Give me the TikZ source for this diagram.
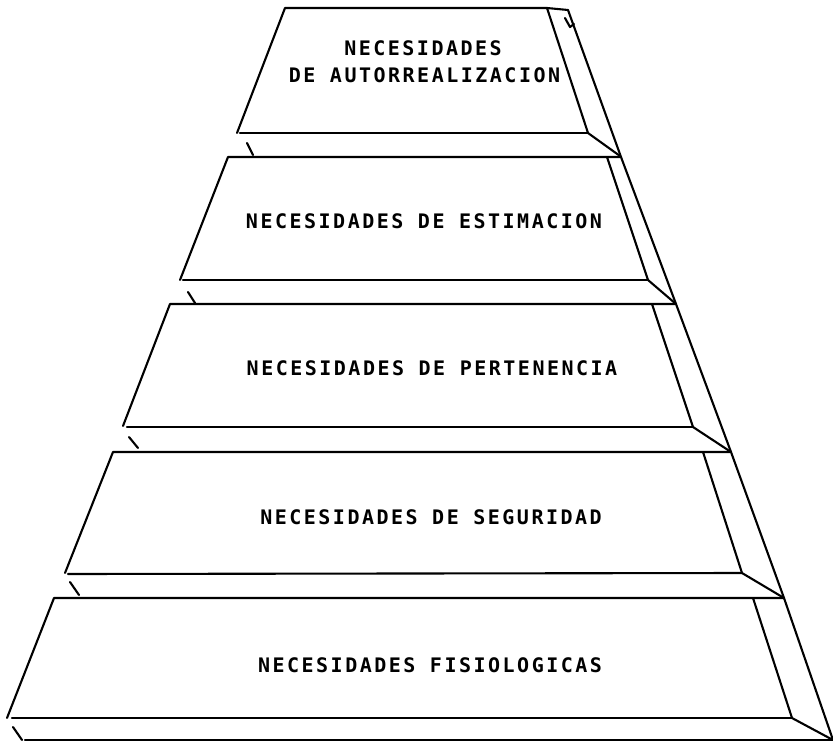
\documentclass[tikz,border=0pt]{standalone}
\usepackage{fontspec}
\usepackage{tikz}
\usetikzlibrary{positioning,calc}
\newfontfamily\plotfont{DejaVu Sans Mono}[LetterSpace=12.5,BoldFont={DejaVu Sans Mono Bold}]

\tikzset{
    pyrline/.style={line width=2.1pt, line cap=round, line join=round},
    levellabel/.style={font=\plotfont\bfseries\fontsize{20}{22}\selectfont, inner sep=0pt}
}

\begin{document}
\begin{tikzpicture}[x=1pt,y=-1pt]
    \useasboundingbox (0,0) rectangle (833,742);

    % Level 1: autorrealizacion
    \draw[pyrline] (237,133) -- (285,8) -- (547,8) -- (568,10);
    \draw[pyrline] (547,8) -- (588,133) -- (620,156);
    \draw[pyrline] (240,133) -- (588,133);
    \draw[pyrline] (568,10) -- (621,157);
    \draw[pyrline] (247,143) -- (253,155); % tick
    \draw[pyrline] (565,18) -- (570,27) -- (574,24); % little mark
    \node[levellabel] (auto1) at (423,48.5) {NECESIDADES};
    \node[levellabel] (auto2) at (424.5,75.5) {DE AUTORREALIZACION};

    % Level 2: estimacion
    \draw[pyrline] (180,280) -- (228,157) -- (621,157);
    \draw[pyrline] (607,157) -- (648,280) -- (676,304);
    \draw[pyrline] (183,280) -- (648,280);
    \draw[pyrline] (621,157) -- (676,304);
    \draw[pyrline] (188,292) -- (195,303); % tick
    \node[levellabel] (estima) at (424,221.5) {NECESIDADES DE ESTIMACION};

    % Level 3: pertenencia
    \draw[pyrline] (123,426) -- (170,304) -- (676,304);
    \draw[pyrline] (652,304) -- (693,427) -- (731,452);
    \draw[pyrline] (127,427) -- (693,427);
    \draw[pyrline] (676,304) -- (731,452);
    \draw[pyrline] (129,437) -- (138,448); % tick
    \node[levellabel] (perten) at (432,368) {NECESIDADES DE PERTENENCIA};

    % Level 4: seguridad
    \draw[pyrline] (65,573) -- (113,452) -- (731,452);
    \draw[pyrline] (703,452) -- (742,573) -- (784,598);
    \draw[pyrline] (68,574) -- (742,573);
    \draw[pyrline] (731,452) -- (784,598);
    \draw[pyrline] (70,582) -- (79,595); % tick
    \node[levellabel] (segur) at (431,517) {NECESIDADES DE SEGURIDAD};

    % Level 5: fisiologicas
    \draw[pyrline] (7,718) -- (54,598) -- (784,598);
    \draw[pyrline] (753,598) -- (792,718) -- (833,740);
    \draw[pyrline] (12,718) -- (792,718);
    \draw[pyrline] (784,598) -- (833,740);
    \draw[pyrline] (13,727) -- (22,740); % tick
    \draw[pyrline] (25,740) -- (833,740); % base
    \node[levellabel] (fisio) at (430,665) {NECESIDADES FISIOLOGICAS};
\end{tikzpicture}
\end{document}
